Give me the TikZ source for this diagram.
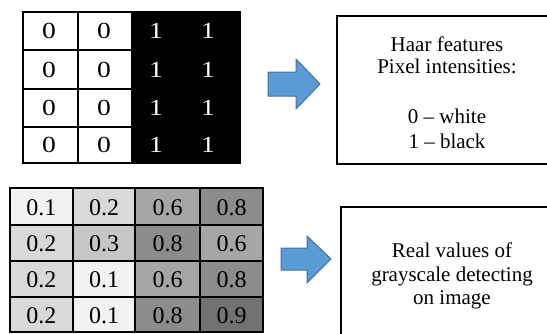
\documentclass[tikz,border=0pt]{standalone}
\usepackage{fontspec}
\setmainfont{Liberation Serif}
\definecolor{gA}{HTML}{F2F2F2}
\definecolor{gB}{HTML}{D9D9D9}
\definecolor{gC}{HTML}{C6C6C6}
\definecolor{gD}{HTML}{A6A6A6}
\definecolor{gE}{HTML}{8C8C8C}
\definecolor{gF}{HTML}{727272}
\definecolor{arrfill}{HTML}{5B9BD5}
\definecolor{arrline}{HTML}{41719C}
\newcommand{\widedigit}[1]{\scalebox{1.2}[1]{#1}}
\begin{document}
\begin{tikzpicture}[x=1pt,y=-1pt,
  toptxt/.style={font=\fontsize{23}{23}\selectfont, inner sep=0pt},
  bottxt/.style={font=\fontsize{24}{24}\selectfont, inner sep=0pt},
  boxtxt/.style={font=\fontsize{21}{21}\selectfont, anchor=base, inner sep=0pt},
  fatarrow/.style={fill=arrfill, draw=arrline, line width=1pt, line join=miter},
  infobox/.style={draw=black, line width=1.6pt}]
\useasboundingbox (0,0) rectangle (547,333);
\fill[white] (0,0) rectangle (547,333);
\begin{scope}
\clip (0,0) rectangle (547,333);
% ---------- top Haar grid ----------
\fill[black] (132,12) rectangle (240,163);
\foreach \ya/\yb in {12/50,50/89,89/127,127/163}{
  \draw[line width=1.1pt] (23,\ya) rectangle (78,\yb);
  \draw[line width=1.1pt] (78,\ya) rectangle (132,\yb);
}
\draw[line width=1.1pt] (23,12) rectangle (240,163);
\foreach \yc [count=\r] in {31,69.5,108,145}{
  \node[toptxt] (z1r\r) at (49,\yc) {\widedigit{0}};
  \node[toptxt] (z2r\r) at (104,\yc) {\widedigit{0}};
  \node[toptxt,text=white] (o1r\r) at (156,\yc) {\widedigit{1}};
  \node[toptxt,text=white] (o2r\r) at (208,\yc) {\widedigit{1}};
}
% ---------- bottom grayscale grid ----------
\foreach \xa/\xb/\ya/\yb/\c/\v [count=\k] in {
  10/73/188/225/gA/0.1, 73/135/188/225/gB/0.2, 135/200/188/225/gD/0.6, 200/263/188/225/gE/0.8,
  10/73/225/261/gB/0.2, 73/135/225/261/gC/0.3, 135/200/225/261/gE/0.8, 200/263/225/261/gD/0.6,
  10/73/261/297/gB/0.2, 73/135/261/297/gA/0.1, 135/200/261/297/gD/0.6, 200/263/261/297/gE/0.8,
  10/73/297/332/gB/0.2, 73/135/297/332/gA/0.1, 135/200/297/332/gE/0.8, 200/263/297/332/gF/0.9}{
  \fill[\c] (\xa,\ya) rectangle (\xb,\yb);
  \draw[line width=1.4pt] (\xa,\ya) rectangle (\xb,\yb);
  \node[bottxt] (v\k) at ({(\xa+\xb)/2},{(\ya+\yb)/2+1}) {\v};
}
% ---------- arrows ----------
\draw[fatarrow] (268,72) -- (296,72) -- (296,59) -- (320,84) -- (296,109) -- (296,96) -- (268,96) -- cycle;
\draw[fatarrow] (281,248) -- (307,248) -- (307,236) -- (331,259) -- (307,283) -- (307,270) -- (281,270) -- cycle;
% ---------- info boxes ----------
\draw[infobox] (337,16) rectangle (600,164);
\node[boxtxt] (h1) at (447,51) {Haar features};
\node[boxtxt] (h2) at (447,73.5) {Pixel intensities:};
\node[boxtxt] (h3) at (447,123) {0 – white};
\node[boxtxt] (h4) at (447,148) {1 – black};
\draw[infobox] (341,207) rectangle (600,360);
\node[boxtxt] (r1) at (452,257) {Real values of};
\node[boxtxt] (r2) at (452,281.5) {grayscale detecting};
\node[boxtxt] (r3) at (452,304) {on image};
\end{scope}
\end{tikzpicture}
\end{document}
